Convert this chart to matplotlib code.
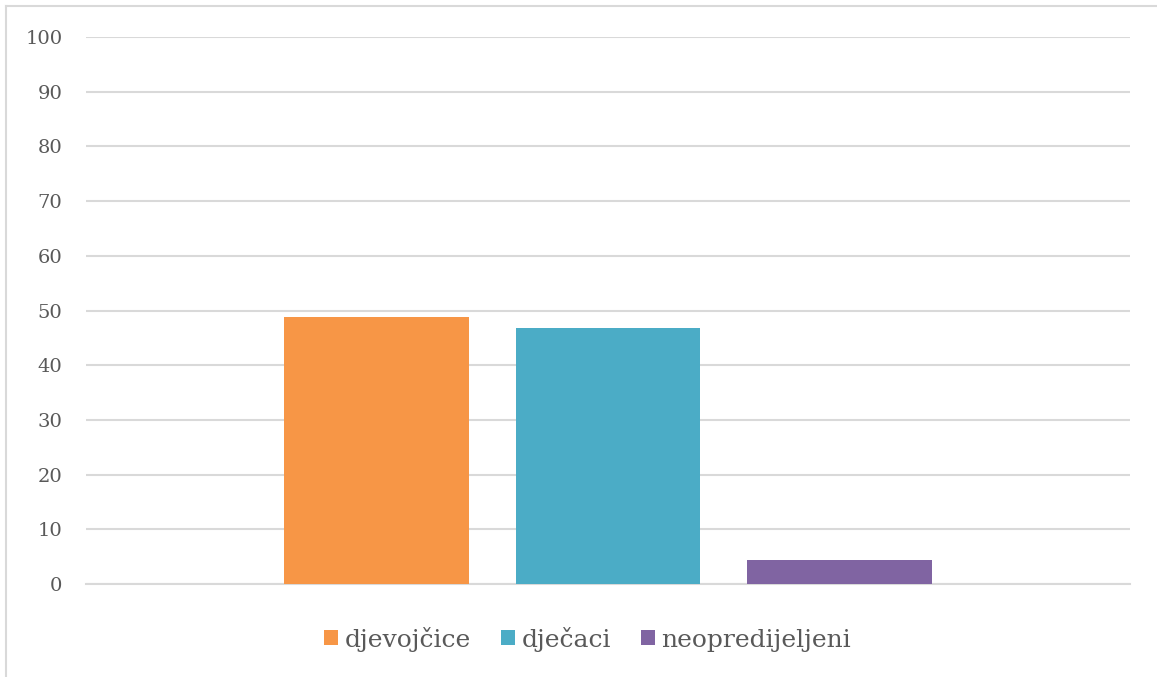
import matplotlib.pyplot as plt
from matplotlib.lines import Line2D

series = ["djevojčice", "dječaci", "neopredijeljeni"]
values = [48.9, 46.8, 4.3]
colors = ["#F79646", "#4BACC6", "#8064A2"]
yticks = [0, 10, 20, 30, 40, 50, 60, 70, 80, 90, 100]

plt.rcParams['font.family'] = ['DejaVu Serif']

fig = plt.figure(figsize=(11.57, 6.77), dpi=100)
ax = fig.add_axes([86 / 1157, 1 - 584 / 677, 1044 / 1157, 547 / 677])

x = [-1, 0, 1]
for xi, v, c, name in zip(x, values, colors, series):
    ax.bar(xi, v, width=0.795, color=c, label=name, zorder=3)

ax.set_xlim(-2.255, 2.255)
ax.set_ylim(0, 100)
ax.set_yticks(yticks)
ax.set_xticks([])
ax.grid(axis='y', color='#D9D9D9', linewidth=1.5, zorder=0)
for s in ['top', 'right', 'left']:
    ax.spines[s].set_visible(False)
ax.spines['bottom'].set_color('#D9D9D9')
ax.spines['bottom'].set_linewidth(1.5)
ax.tick_params(axis='y', length=0, pad=17, labelsize=14, labelcolor='#595959')

# chart area border (left and top edges visible)
fig.add_artist(Line2D([6 / 1157, 6 / 1157], [0, 1 - 6 / 677], color='#D9D9D9', linewidth=1.5))
fig.add_artist(Line2D([6 / 1157, 1], [1 - 6 / 677, 1 - 6 / 677], color='#D9D9D9', linewidth=1.5))

leg = fig.legend(loc='center', bbox_to_anchor=(0.508, 1 - 639 / 677), ncol=3, frameon=False,
                 fontsize=18, handlelength=0.56, handleheight=0.56, handletextpad=0.26,
                 columnspacing=1.2)
for t in leg.get_texts():
    t.set_color('#595959')

fig.savefig('out.png', dpi=100)
